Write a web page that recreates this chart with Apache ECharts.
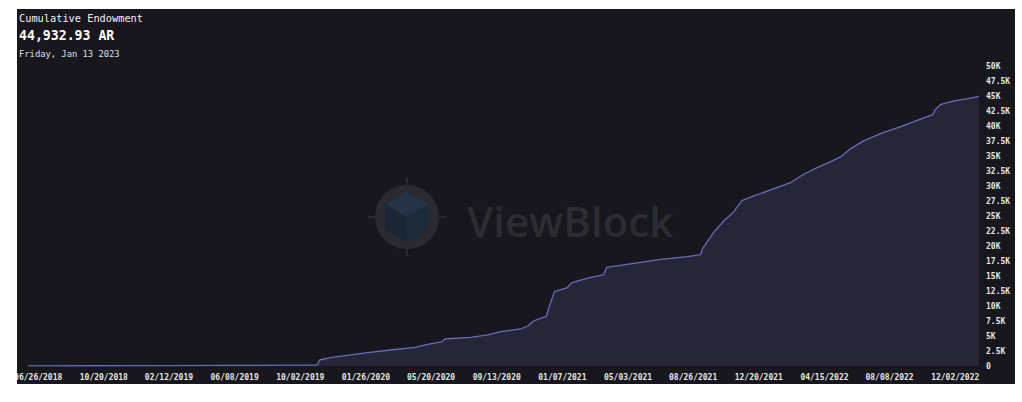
<!DOCTYPE html>
<html>
<head>
<meta charset="utf-8">
<script src="https://cdn.jsdelivr.net/npm/echarts@6/dist/echarts.min.js"></script>
<style>
html,body{margin:0;padding:0;background:#ffffff;width:1022px;height:402px;overflow:hidden;}
#chart{position:absolute;left:17px;top:9px;width:998px;height:375px;background:#17171d;overflow:hidden;}
</style>
</head>
<body>
<div id="chart"></div>
<script>
// ---- data ----
var titleText = 'Cumulative Endowment';
var valueText = '44,932.93 AR';
var dateText = 'Friday, Jan 13 2023';

var dates = [
  '2018-06-08','2018-10-01','2019-02-01','2019-06-01','2019-09-01','2019-11-01','2019-11-05','2019-11-24',
  '2020-01-29','2020-03-09','2020-04-22','2020-05-14','2020-06-09','2020-06-13','2020-07-29','2020-08-28',
  '2020-09-20','2020-10-25','2020-11-07','2020-11-17','2020-12-10','2020-12-14','2020-12-24','2021-01-16',
  '2021-01-22','2021-01-30','2021-02-26','2021-03-21','2021-03-26','2021-05-13','2021-06-30','2021-08-16',
  '2021-09-08','2021-09-12','2021-10-01','2021-10-19','2021-11-06','2021-11-20','2021-12-11','2022-01-10',
  '2022-02-15','2022-03-10','2022-04-03','2022-04-26','2022-05-14','2022-06-01','2022-06-24','2022-07-24',
  '2022-08-23','2022-09-20','2022-10-24','2022-10-27','2022-11-07','2022-11-30','2022-12-25','2023-01-13'
];
var endowment = [
  20, 45, 70, 100, 130, 150, 1000, 1380,
  2220, 2670, 3110, 3610, 4050, 4500, 4780, 5170,
  5720, 6170, 6670, 7500, 8330, 9670, 12390, 13060,
  13780, 14060, 14780, 15170, 16450, 17120, 17780, 18220,
  18560, 19620, 22220, 24170, 25720, 27560, 28340, 29340,
  30620, 32000, 33110, 34060, 34890, 36280, 37560, 38780,
  39730, 40720, 41950, 42670, 43620, 44170, 44560, 44932.93
];
var xTickDates = [
  '2018-06-26','2018-10-20','2019-02-12','2019-06-08','2019-10-02','2020-01-26','2020-05-20','2020-09-13',
  '2021-01-07','2021-05-03','2021-08-26','2021-12-20','2022-04-15','2022-08-08','2022-12-02'
];
var xMin = '2018-06-08';
var xMax = '2023-01-13';

function ts(s){ var p = s.split('-'); return Date.UTC(+p[0], +p[1]-1, +p[2]); }
function pad(n){ return (n<10?'0':'')+n; }
function fmt(v){ var d = new Date(v); return pad(d.getUTCMonth()+1)+'/'+pad(d.getUTCDate())+'/'+d.getUTCFullYear(); }

var seriesData = dates.map(function(d,i){ return [ts(d), endowment[i]]; });
var tickValues = xTickDates.map(ts);

var mono = '"DejaVu Sans Mono", "Liberation Mono", monospace';
var cx = 390, cy = 208;
function hexPts(r, idx){
  var v = [];
  for (var i = 0; i < 6; i++){ var a = Math.PI/180*(-90 + 60*i); v.push([cx + r*Math.cos(a), cy + r*Math.sin(a)]); }
  var c = [cx, cy];
  if (idx === 0) return [v[0], v[1], c, v[5]];
  if (idx === 1) return [v[1], v[2], v[3], c];
  return [v[5], c, v[3], v[4]];
}
var chart = echarts.init(document.getElementById('chart'), null, {renderer:'svg'});
chart.setOption({
  backgroundColor: '#17171d',
  animation: false,
  grid: {left: 11, right: 36, top: 57, bottom: 18, containLabel: false, outerBoundsMode: 'none'},
  xAxis: {
    type: 'value',
    min: ts(xMin), max: ts(xMax),
    axisLine: {show: false},
    axisTick: {show: false},
    splitLine: {show: false},
    axisLabel: {
      customValues: tickValues,
      formatter: function(v){ return fmt(v); },
      color: '#e6e6e6', fontFamily: mono, fontSize: 8, fontWeight: 'bold',
      margin: 7, hideOverlap: false, showMinLabel: true, showMaxLabel: true
    }
  },
  yAxis: {
    type: 'value', position: 'right',
    min: 0, max: 50000, interval: 2500,
    axisLine: {show: false}, axisTick: {show: false}, splitLine: {show: false},
    axisLabel: {
      formatter: function(v){ return v === 0 ? '0' : (v/1000) + 'K'; },
      color: '#e6e6e6', fontFamily: mono, fontSize: 8, fontWeight: 'bold',
      margin: 7, align: 'left'
    }
  },
  graphic: [
    {type:'line', shape:{x1:cx, y1:cy-39, x2:cx, y2:cy+39}, style:{stroke:'#2a2a30', lineWidth:2}, z:-1, silent:true},
    {type:'line', shape:{x1:cx-39, y1:cy, x2:cx+39, y2:cy}, style:{stroke:'#2a2a30', lineWidth:2}, z:-1, silent:true},
    {type:'circle', shape:{cx:cx, cy:cy, r:32}, style:{fill:'#2a2a30'}, z:-1, silent:true},
    {type:'polygon', shape:{points:hexPts(25,0)}, style:{fill:'#233449'}, z:-1, silent:true},
    {type:'polygon', shape:{points:hexPts(25,1)}, style:{fill:'#1c2b3c'}, z:-1, silent:true},
    {type:'polygon', shape:{points:hexPts(25,2)}, style:{fill:'#1a2636'}, z:-1, silent:true},
    {type:'text', left:450, top:190, z:-1, silent:true,
      style:{text:'ViewBlock', fill:'#2c2c33', font:'600 42px "Open Sans", Lato, sans-serif'}},
    {type:'text', left:2, top:4, style:{text:titleText, fill:'#f2f2f2', font:'10.3px ' + mono}},
    {type:'text', left:2, top:20, style:{text:valueText, fill:'#ffffff', font:'bold 13.2px ' + mono}},
    {type:'text', left:2, top:40, style:{text:dateText, fill:'#e0e0e0', font:'8.8px ' + mono}}
  ],
  series: [{
    type: 'line',
    data: seriesData,
    showSymbol: false,
    symbol: 'none',
    lineStyle: {color: '#6b6bb8', width: 1.3},
    areaStyle: {color: '#26253a', opacity: 1},
    z: 2
  }]
});
</script>
</body>
</html>
